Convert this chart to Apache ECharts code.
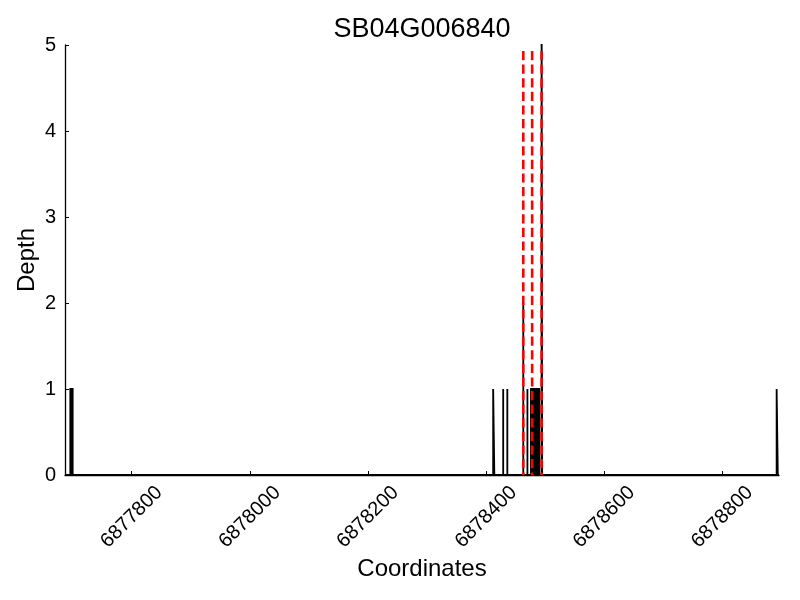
<!DOCTYPE html>
<html>
<head>
<meta charset="utf-8">
<script src="https://cdn.jsdelivr.net/npm/echarts@6/dist/echarts.min.js"></script>
<style>html,body{margin:0;padding:0;background:#fff}#c{width:800px;height:600px}</style>
</head>
<body>
<div id="c"></div>
<script>
// ---- data ----
var title = 'SB04G006840';
var xRange = [6877687, 6878896];
// coverage spikes: start coordinate, end coordinate, depth
var spikeStart = [6877696, 6878412, 6878429, 6878436, 6878463, 6878470, 6878476, 6878494, 6878892];
var spikeEnd   = [6877700, 6878414, 6878429, 6878436, 6878463, 6878470, 6878490, 6878495, 6878894];
var spikeDepth = [1, 1, 1, 1, 2, 1, 1, 6, 1];
// red dashed markers
var redX = [6878463, 6878478, 6878494];
var redTop = 4.93;
var xTickValues = [6877800, 6878000, 6878200, 6878400, 6878600, 6878800];
var yTickValues = [0, 1, 2, 3, 4, 5];

// build depth profile
var depthLine = [[xRange[0], 0]];
for (var i = 0; i < spikeStart.length; i++) {
  depthLine.push([spikeStart[i], 0]);
  depthLine.push([spikeStart[i], spikeDepth[i]]);
  depthLine.push([spikeEnd[i], spikeDepth[i]]);
  depthLine.push([spikeEnd[i], 0]);
}
depthLine.push([xRange[1], 0]);

var FONT = 'Liberation Sans';
var series = [{
  type: 'line',
  data: depthLine,
  showSymbol: false,
  symbol: 'none',
  clip: true,
  sampling: null,
  lineStyle: { color: '#000', width: 1.8, join: 'miter', cap: 'butt' },
  areaStyle: { color: '#000', opacity: 1 },
  animation: false,
  z: 2
}];
redX.forEach(function (x) {
  series.push({
    type: 'line',
    data: [[x, redTop], [x, 0]],
    showSymbol: false,
    symbol: 'none',
    lineStyle: { color: '#ff0000', width: 2.6, type: [9.2, 4.4] },
    animation: false,
    z: 3
  });
});

var chart = echarts.init(document.getElementById('c'), null, { renderer: 'canvas' });
chart.setOption({
  backgroundColor: '#fff',
  animation: false,
  title: {
    text: title,
    left: 422,
    top: 16,
    padding: 0,
    textAlign: 'center',
    textStyle: { fontFamily: FONT, fontSize: 27, fontWeight: 'normal', color: '#000' }
  },
  grid: { left: 65, right: 21, top: 45, bottom: 125, containLabel: false, outerBoundsMode: 'none' },
  xAxis: {
    type: 'value',
    min: xRange[0],
    max: xRange[1],
    name: 'Coordinates',
    nameLocation: 'middle',
    nameGap: 82,
    nameMoveOverlap: false,
    nameTextStyle: { fontFamily: FONT, fontSize: 24, color: '#000' },
    axisLine: { show: true, lineStyle: { color: '#000', width: 1.3 } },
    axisTick: { show: true, inside: true, length: 4, lineStyle: { color: '#000' }, customValues: xTickValues },
    axisLabel: {
      show: true, rotate: 45, align: 'center', verticalAlign: 'middle', margin: 42,
      fontFamily: FONT, fontSize: 20, color: '#000',
      customValues: xTickValues,
      formatter: function (v) { return String(v); }
    },
    splitLine: { show: false }
  },
  yAxis: {
    type: 'value',
    min: 0,
    max: 5,
    interval: 1,
    name: 'Depth',
    nameLocation: 'middle',
    nameGap: 26,
    nameMoveOverlap: false,
    nameTextStyle: { fontFamily: FONT, fontSize: 24, color: '#000' },
    axisLine: { show: true, lineStyle: { color: '#000', width: 1.3 } },
    axisTick: { show: true, inside: true, length: 4, lineStyle: { color: '#000' }, customValues: yTickValues },
    axisLabel: { fontFamily: FONT, fontSize: 20, color: '#000', margin: 9, customValues: yTickValues },
    splitLine: { show: false }
  },
  series: series
});
</script>
</body>
</html>
